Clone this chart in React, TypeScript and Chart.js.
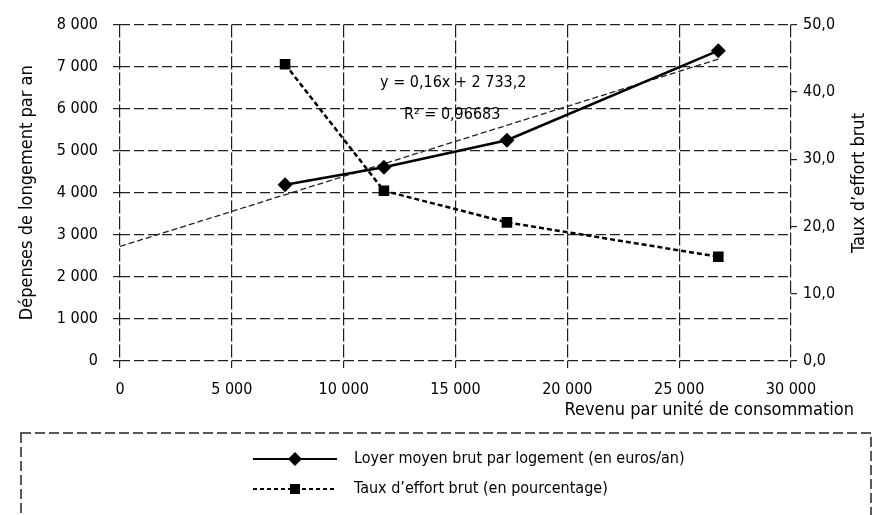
import React, { useEffect, useRef } from 'react';
import { Chart, registerables } from 'chart.js';

Chart.register(...registerables);

// ---- data ----
const revenu = [7380, 11800, 17300, 26750];
const loyer = [4190, 4610, 5250, 7380];
const taux = [44.1, 25.3, 20.6, 15.5];
const seriesLabels = [
  'Loyer moyen brut par logement (en euros/an)',
  'Taux d\u2019effort brut (en pourcentage)',
];
const leftTitle = 'Dépenses de longement par an';
const rightTitle = 'Taux d\u2019effort brut';
const xTitle = 'Revenu par unité de consommation';
const equationText = 'y = 0,16x + 2 733,2';
const r2Text = 'R\u00b2 = 0,96683';

const FONT = "'DejaVu Sans Condensed', 'Liberation Sans Narrow', sans-serif";

function fmtThousands(v: number): string {
  const s = Math.round(v).toString();
  return s.replace(/\B(?=(\d{3})+(?!\d))/g, ' ');
}

function linreg(xs: number[], ys: number[]) {
  const n = xs.length;
  const mx = xs.reduce((a, b) => a + b, 0) / n;
  const my = ys.reduce((a, b) => a + b, 0) / n;
  let sxy = 0, sxx = 0;
  for (let i = 0; i < n; i++) {
    sxy += (xs[i] - mx) * (ys[i] - my);
    sxx += (xs[i] - mx) * (xs[i] - mx);
  }
  const a = sxy / sxx;
  return { a, b: my - a * mx };
}

const extrasPlugin = {
  id: 'extras',
  afterDraw(chart: any) {
    const { ctx, scales } = chart;
    const xs = scales.x;
    const ys = scales.y;
    ctx.save();
    ctx.fillStyle = '#000';
    // equation annotation
    ctx.font = `16px ${FONT}`;
    ctx.textAlign = 'center';
    ctx.textBaseline = 'middle';
    ctx.fillText(equationText, xs.getPixelForValue(14900), ys.getPixelForValue(6620));
    ctx.fillText(r2Text, xs.getPixelForValue(14850), ys.getPixelForValue(5850));

    // x title
    ctx.font = `18px ${FONT}`;
    ctx.textAlign = 'right';
    ctx.fillText(xTitle, 854, 410);

    // right title (reads bottom to top)
    ctx.save();
    ctx.translate(859, 183);
    ctx.rotate(-Math.PI / 2);
    ctx.font = `18px ${FONT}`;
    ctx.textAlign = 'center';
    ctx.fillText(rightTitle, 0, 0);
    ctx.restore();

    // legend box
    ctx.strokeStyle = '#222';
    ctx.lineWidth = 1.5;
    ctx.setLineDash([10, 4]);
    ctx.strokeRect(21, 433, 850, 100);

    const ds = chart.data.datasets;
    const rows = [459, 489];
    for (let i = 0; i < 2; i++) {
      const d = ds[i];
      const y = rows[i];
      ctx.strokeStyle = '#000';
      ctx.lineWidth = 2;
      ctx.setLineDash(i === 0 ? [] : [4, 3]);
      ctx.beginPath();
      ctx.moveTo(253, y);
      ctx.lineTo(337, y);
      ctx.stroke();
      ctx.setLineDash([]);
      ctx.fillStyle = '#000';
      ctx.beginPath();
      if (i === 0) {
        ctx.moveTo(295, y - 7);
        ctx.lineTo(302, y);
        ctx.lineTo(295, y + 7);
        ctx.lineTo(288, y);
        ctx.closePath();
      } else {
        ctx.rect(290, y - 5, 10, 10);
      }
      ctx.fill();
      ctx.fillStyle = '#000';
      ctx.font = `16px ${FONT}`;
      ctx.textAlign = 'left';
      ctx.textBaseline = 'middle';
      ctx.fillText(d.label, 354, y);
    }
    ctx.restore();
  },
};

export default function App() {
  const ref = useRef<HTMLCanvasElement>(null);
  useEffect(() => {
    document.body.style.margin = '0';
    const canvas = ref.current!;
    const { a, b } = linreg(revenu, loyer);
    const xMax = Math.max(...revenu);
    const chart = new Chart(canvas, {
      type: 'line',
      data: {
        datasets: [
          {
            label: seriesLabels[0],
            data: revenu.map((x, i) => ({ x, y: loyer[i] })),
            yAxisID: 'y',
            borderColor: '#000',
            backgroundColor: '#000',
            borderWidth: 2.5,
            pointStyle: 'rectRot',
            pointRadius: 7.5,
            pointBorderWidth: 0,
            order: 1,
          },
          {
            label: seriesLabels[1],
            data: revenu.map((x, i) => ({ x, y: taux[i] })),
            yAxisID: 'y1',
            borderColor: '#000',
            backgroundColor: '#000',
            borderWidth: 2.5,
            borderDash: [5, 3],
            pointStyle: 'rect',
            pointRadius: 7.5,
            pointBorderWidth: 0,
            order: 2,
          },
          {
            label: 'trend',
            data: [
              { x: 0, y: b },
              { x: xMax, y: a * xMax + b },
            ],
            yAxisID: 'y',
            borderColor: '#222',
            borderWidth: 1.3,
            borderDash: [6, 3],
            pointRadius: 0,
            order: 3,
          },
        ],
      },
      options: {
        responsive: false,
        animation: false,
        layout: { padding: { left: 0, right: 0, top: 22, bottom: 83 } },
        plugins: { legend: { display: false }, tooltip: { enabled: false } },
        scales: {
          x: {
            type: 'linear',
            min: 0,
            max: 30000,
            ticks: {
              stepSize: 5000,
              color: '#000',
              font: { family: FONT, size: 16 },
              padding: 12,
              maxRotation: 0,
              callback: (v: any) => fmtThousands(Number(v)),
            },
            grid: { color: '#222', lineWidth: 1.2, tickLength: 7, tickColor: '#222' },
            border: { display: false, dash: [13, 3] },
            afterFit: (s: any) => { s.height = 71; },
          },
          y: {
            position: 'left',
            min: 0,
            max: 8000,
            ticks: {
              stepSize: 1000,
              color: '#000',
              font: { family: FONT, size: 16 },
              padding: 15,
              callback: (v: any) => fmtThousands(Number(v)),
            },
            grid: { color: '#222', lineWidth: 1.2, tickLength: 7, tickColor: '#222' },
            border: { display: false, dash: [10, 4] },
            title: {
              display: true,
              text: leftTitle,
              color: '#000',
              font: { family: FONT, size: 18 },
              padding: { top: 17, bottom: 0 },
            },
            afterFit: (s: any) => { s.width = 120; },
          },
          y1: {
            position: 'right',
            min: 0,
            max: 50,
            ticks: {
              stepSize: 10,
              color: '#000',
              font: { family: FONT, size: 16 },
              padding: 6,
              callback: (v: any) => Number(v).toFixed(1).replace('.', ','),
            },
            grid: { drawOnChartArea: false, color: '#222', lineWidth: 1.2, tickLength: 6, tickColor: '#222' },
            border: { display: false },
            afterFit: (s: any) => { s.width = 86; },
          },
        },
      },
      plugins: [extrasPlugin],
    });
    return () => chart.destroy();
  }, []);
  return (
    <div style={{ position: 'absolute', left: 0, top: 0, width: 877, height: 515, background: '#fff' }}>
      <canvas ref={ref} width={877} height={515} style={{ width: 877, height: 515, display: 'block' }} />
    </div>
  );
}
